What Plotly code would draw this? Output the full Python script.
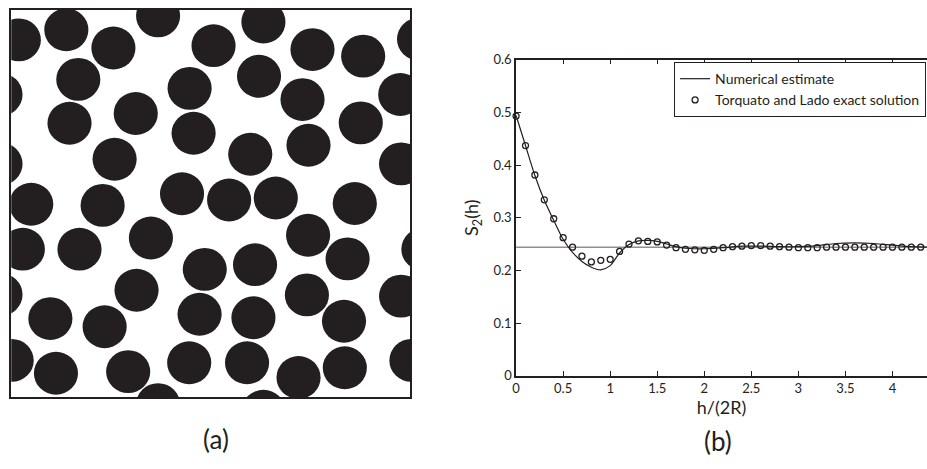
import plotly.graph_objects as go

# ---------------- data ----------------
# (a) disk centres, as fractions of the square window (y measured from top)
disk_x = [0.019, 0.138, 0.256, 0.368, 0.507, 0.632, 0.755, 0.882, 1.022,
          0.168, -0.027, 0.447, 0.621, 0.730, 0.975,
          0.146, 0.312, 0.457, 0.599, 0.745, 0.876,
          -0.027, 0.259, 0.977,
          0.050, 0.229, 0.428, 0.546, 0.663, 0.861,
          0.029, 0.171, 0.350, 0.744, 0.843, 1.033,
          0.485, 0.611,
          -0.027, 0.314, 0.741, 0.977,
          0.098, 0.234, 0.472, 0.607, 0.834,
          0.001, 0.112, 0.293, 0.446, 0.591, 0.720, 0.836, 1.003,
          0.368, 0.632]
disk_y = [0.078, 0.052, 0.099, 0.016, 0.093, 0.032, 0.103, 0.120, 0.076,
          0.180, 0.219, 0.203, 0.172, 0.232, 0.219,
          0.293, 0.268, 0.319, 0.373, 0.350, 0.292,
          0.398, 0.386, 0.398,
          0.502, 0.505, 0.475, 0.491, 0.486, 0.500,
          0.618, 0.618, 0.589, 0.582, 0.643, 0.618,
          0.670, 0.658,
          0.735, 0.724, 0.736, 0.739,
          0.797, 0.818, 0.786, 0.795, 0.804,
          0.905, 0.938, 0.934, 0.911, 0.911, 0.949, 0.924, 0.905,
          1.019, 1.036]
disk_radius = 0.0553

# (b) two-point probability function
curve_x = [0, 0.1, 0.2, 0.3, 0.4, 0.5, 0.6, 0.7, 0.8, 0.9, 1.0, 1.1, 1.2, 1.3,
           1.4, 1.5, 1.6, 1.7, 1.8, 1.9, 2.0, 2.2, 2.4, 2.6, 2.8, 3.0, 3.2,
           3.4, 3.6, 3.8, 4.0, 4.2, 4.4]
curve_y = [0.494, 0.437, 0.380, 0.333, 0.295, 0.259, 0.234, 0.217, 0.206,
           0.201, 0.209, 0.233, 0.249, 0.256, 0.257, 0.255, 0.250, 0.245,
           0.242, 0.241, 0.241, 0.243, 0.246, 0.246, 0.245, 0.245, 0.247,
           0.251, 0.252, 0.251, 0.248, 0.245, 0.244]

exact_x = [round(0.1 * i, 1) for i in range(44)]
exact_y = [0.493, 0.437, 0.381, 0.334, 0.298, 0.262, 0.244, 0.227, 0.216,
           0.219, 0.221, 0.236, 0.250, 0.256, 0.255, 0.254, 0.248, 0.243,
           0.240, 0.239, 0.238, 0.240, 0.243, 0.245, 0.246, 0.247, 0.247,
           0.246, 0.245, 0.244, 0.243, 0.243, 0.243, 0.244, 0.244, 0.244,
           0.244, 0.244, 0.244, 0.244, 0.244, 0.244, 0.244, 0.244]

asymptote_y = 0.244
asymptote_x = [0, 4.4]

x_ticks = [0, 0.5, 1, 1.5, 2, 2.5, 3, 3.5, 4]
x_tick_labels = ["0", "0.5", "1", "1.5", "2", "2.5", "3", "3.5", "4"]
y_ticks = [0, 0.1, 0.2, 0.3, 0.4, 0.5, 0.6]
y_tick_labels = ["0", "0.1", "0.2", "0.3", "0.4", "0.5", "0.6"]

FONT = "Lato"
INK = "#231f20"

fig = go.Figure()

# ---- panel (b) traces ----
fig.add_trace(go.Scatter(x=asymptote_x, y=[asymptote_y] * len(asymptote_x),
                         mode="lines", line=dict(color="#8f8f8f", width=1.6),
                         showlegend=False, hoverinfo="skip",
                         xaxis="x", yaxis="y"))
fig.add_trace(go.Scatter(x=curve_x, y=curve_y, mode="lines",
                         name="Numerical estimate",
                         line=dict(color=INK, width=1.2, shape="spline", smoothing=0.8),
                         xaxis="x", yaxis="y"))
fig.add_trace(go.Scatter(x=exact_x, y=exact_y, mode="markers",
                         name="Torquato and Lado exact solution",
                         cliponaxis=False,
                         marker=dict(symbol="circle-open", size=6, color=INK,
                                     line=dict(width=1.3, color=INK)),
                         xaxis="x", yaxis="y"))

# ---- panel (a) invisible anchor trace so its axes exist ----
fig.add_trace(go.Scatter(x=[0.5], y=[0.5], mode="markers", marker=dict(opacity=0),
                         showlegend=False, hoverinfo="skip", xaxis="x2", yaxis="y2"))

shapes = []
for cx, cy in zip(disk_x, disk_y):
    shapes.append(dict(type="circle", xref="x2", yref="y2",
                       x0=cx - disk_radius, x1=cx + disk_radius,
                       y0=cy - disk_radius, y1=cy + disk_radius,
                       fillcolor=INK, line=dict(width=0), layer="above"))

W, H = 927, 469
fig.update_layout(
    width=W, height=H,
    margin=dict(l=0, r=0, t=0, b=0),
    paper_bgcolor="white", plot_bgcolor="white",
    font=dict(family=FONT, color=INK, size=13),
    shapes=shapes,
    showlegend=True,
    legend=dict(x=0.999, xanchor="right", y=1 - 56 / H, yanchor="top",
                bordercolor=INK, borderwidth=1, bgcolor="white",
                font=dict(family=FONT, size=14, color=INK),
                tracegroupgap=0, itemwidth=30),
    xaxis=dict(domain=[514.3 / W, 1.0], range=[0, 4.367], anchor="y",
               tickvals=x_ticks, ticktext=x_tick_labels,
               ticks="inside", ticklen=5, tickwidth=1, tickcolor=INK,
               showline=True, linecolor=INK, linewidth=1.6, mirror="ticks",
               showgrid=False, zeroline=False,
               tickfont=dict(family=FONT, size=13, color=INK),
               title=dict(text="h/(2R)", standoff=2,
                          font=dict(family=FONT, size=18, color=INK))),
    yaxis=dict(domain=[1 - 380.7 / H, 1 - 53.5 / H], range=[0, 0.6], anchor="x",
               tickvals=y_ticks, ticktext=y_tick_labels,
               ticks="inside", ticklen=5, tickwidth=1, tickcolor=INK,
               showline=True, linecolor=INK, linewidth=1.6, mirror=False,
               showgrid=False, zeroline=False,
               tickfont=dict(family=FONT, size=13, color=INK),
               title=dict(text="S<sub>2</sub>(h)", standoff=10,
                          font=dict(family=FONT, size=18, color=INK))),
    xaxis2=dict(domain=[7.3 / W, 408 / W], range=[0, 1], anchor="y2",
                showticklabels=False, ticks="", showgrid=False, zeroline=False,
                showline=True, linecolor=INK, linewidth=2, mirror=True),
    yaxis2=dict(domain=[1 - 403 / H, 1 - 1.7 / H], range=[1, 0], anchor="x2",
                showticklabels=False, ticks="", showgrid=False, zeroline=False,
                showline=True, linecolor=INK, linewidth=2, mirror=True),
    annotations=[
        dict(text="(a)", x=213 / W, y=1 - 446 / H, xref="paper", yref="paper",
             xanchor="center", yanchor="middle",
             showarrow=False, font=dict(family=FONT, size=26, color=INK)),
        dict(text="(b)", x=717 / W, y=1 - 448 / H, xref="paper", yref="paper",
             xanchor="center", yanchor="middle",
             showarrow=False, font=dict(family=FONT, size=26, color=INK)),
    ],
)

fig.write_html("out.html",
               config={"displayModeBar": False},
               post_script="document.body.style.margin='0';"
                           "document.body.style.overflow='hidden';")
